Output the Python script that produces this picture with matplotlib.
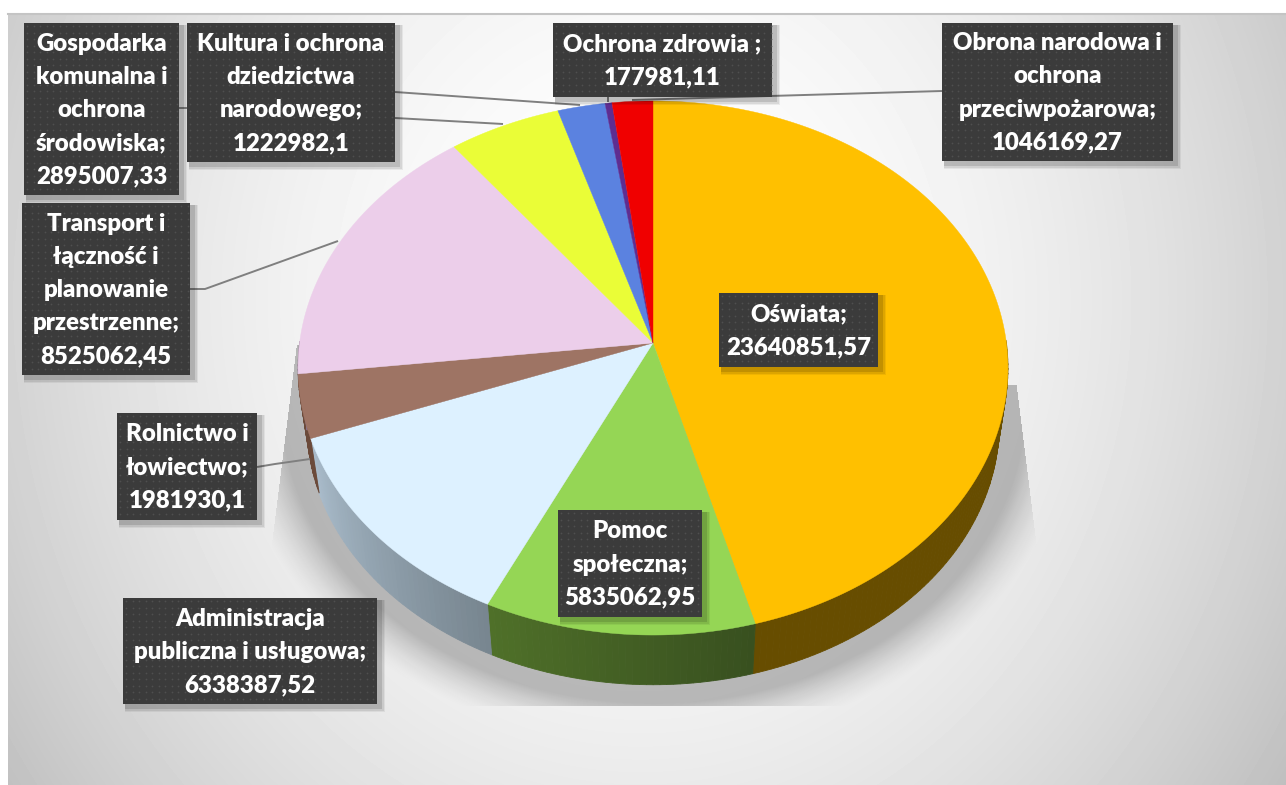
import numpy as np
import matplotlib
matplotlib.use("Agg")
import matplotlib.pyplot as plt
from matplotlib.patches import Rectangle

plt.rcParams['font.family'] = ['Lato', 'DejaVu Sans']

# dane
categories = ['Oświata', 'Pomoc\nspołeczna', 'Administracja\npubliczna i usługowa', 'Rolnictwo i\nłowiectwo',
              'Transport i\nłączność i\nplanowanie\nprzestrzenne', 'Gospodarka\nkomunalna i\nochrona\nśrodowiska',
              'Kultura i ochrona\ndziedzictwa\nnarodowego', 'Ochrona zdrowia ', 'Obrona narodowa i\nochrona\nprzeciwpożarowa']
values = [23640851.57, 5835062.95, 6338387.52, 1981930.1, 8525062.45, 2895007.33, 1222982.1, 177981.11, 1046169.27]
value_labels = ['23640851,57', '5835062,95', '6338387,52', '1981930,1', '8525062,45', '2895007,33', '1222982,1',
                '177981,11', '1046169,27']

# kolory
top_colors = ['#FFC000', '#95D655', '#DDF1FF', '#9E7464', '#ECCEEA', '#EAFD37', '#5B82E0', '#5E2D91', '#F00000']
rim_left = ['#674D00', '#4F7029', '#A9BCCB', '#6B4A3A', '#8A7088', '#8A9420', '#35508A', '#3A1C5A', '#8A0000']
rim_right = ['#674D00', '#38501F', '#788690', '#6B4A3A', '#8A7088', '#8A9420', '#35508A', '#3A1C5A', '#8A0000']

# ramki etykiet: x0, y0, x1, y1 (w pikselach)
boxes = [(719, 293, 878, 367), (558, 510, 702, 617), (123, 598, 377, 704), (117, 413, 257, 520),
         (22, 203, 190, 375), (24, 23, 179, 195), (187, 23, 395, 162), (553, 23, 772, 97), (942, 23, 1173, 161)]
leaders = [[(179, 108), (187, 108)], [(395, 118), (503, 124)], [(395, 92), (580, 105)], [(608, 97), (608, 102)],
           [(942, 91), (632, 100)], [(190, 289), (205, 289), (338, 241)], [(257, 467), (275, 464), (310, 459)]]

cx, cy = 653, 343
A, B, k = 353.4, 264.7, 0.0936
depth, shrink = 57, 0.975


def project(theta, scale=1.0, dy=0.0):
    w = 1 + k * np.cos(theta)
    return cx + scale * A * np.sin(theta) / w, cy + dy - scale * B * np.cos(theta) / w


fig = plt.figure(figsize=(12.86, 7.85), dpi=100)
ax = fig.add_axes([0, 0, 1, 1])
ax.axis('off')

# tło
yy, xx = np.mgrid[14:785, 8:1286]
d = np.sqrt(((xx - 640) / 800) ** 2 + ((yy - 300) / 900) ** 2)
bg = np.clip(255 - 68 * d ** 1.9, 0, 255) / 255
ax.imshow(bg, cmap='gray', vmin=0, vmax=1, extent=(8, 1286, 785, 14), aspect='auto', zorder=0)
ax.plot([8, 1286], [14, 14], color='#c4c4c4', lw=1.5, zorder=1)

# cień pod kołem
dist = np.sqrt(((xx - 653) / 372) ** 2 + ((yy - 405) / 298) ** 2)
alpha = 0.24 * np.clip((1.14 - dist) / 0.14, 0, 1) ** 1.5
alpha[yy > 705] = 0
alpha[yy < 345] = 0
alpha[(xx > 653) & (yy < 385)] = 0
alpha[xx > 1018 + (yy - 400) * 0.125] = 0
alpha[xx < 297 - (yy - 340) * 0.125] = 0
shadow = np.zeros(alpha.shape + (4,))
shadow[..., 3] = alpha
ax.imshow(shadow, extent=(8, 1286, 785, 14), aspect='auto', zorder=1)
ax.set_xlim(0, 1286)
ax.set_ylim(785, 0)

# koło
edges = np.radians(np.cumsum([0] + values) / sum(values) * 360)
for i in range(len(values)):
    t = np.linspace(edges[i], edges[i + 1], max(int(np.degrees(edges[i + 1] - edges[i])), 2) + 1)
    c0 = np.array(matplotlib.colors.to_rgb(rim_left[i]))
    c1 = np.array(matplotlib.colors.to_rgb(rim_right[i]))
    for j in range(len(t) - 1):
        if np.cos(t[j]) > 0.0 and np.cos(t[j + 1]) > 0.0:
            continue  # tył koła i tak niewidoczny
        x1, y1 = project(t[j:j + 2])
        x2, y2 = project(t[j:j + 2], shrink, depth)
        f = 1 - j / max(len(t) - 2, 1)
        col = c0 + (c1 - c0) * f
        ax.fill(np.r_[x1, x2[::-1]], np.r_[y1, y2[::-1]], color=col, lw=0.6, zorder=2)

for i in range(len(values)):
    t = np.linspace(edges[i], edges[i + 1], 200)
    x, y = project(t)
    ax.fill(np.r_[cx, x], np.r_[cy, y], color=top_colors[i], lw=0.3, zorder=3)

# linie odniesienia
for pts in leaders:
    ax.plot(*zip(*pts), color='#7f7f7f', lw=1.4, zorder=4, solid_capstyle='butt')

# etykiety
for name, val, (x0, y0, x1, y1) in zip(categories, value_labels, boxes):
    for s, a in [(6, 0.06), (4.5, 0.08), (3, 0.12)]:
        ax.add_patch(Rectangle((x0 + 2, y0 + 2), x1 - x0 + s, y1 - y0 + s, fc='black', ec='none', alpha=a, zorder=5))
    ax.add_patch(Rectangle((x0, y0), x1 - x0, y1 - y0, fc='#3b3b3b', ec='none', zorder=6))
    # kropkowana faktura ramki
    gx, gy = np.meshgrid(np.arange(x0 + 3, x1 - 1, 6.5), np.arange(y0 + 3, y1 - 1, 6.5))
    ax.scatter(gx.ravel(), gy.ravel(), s=1.6, c='#4f4f4f', marker='o', linewidths=0, zorder=6.5)
    ax.text((x0 + x1) / 2, (y0 + y1) / 2 + 1, f'{name};\n{val}', color='white', fontweight='heavy', fontsize=17.3,
            ha='center', va='center', linespacing=1.62, zorder=7)

fig.savefig('out.png', dpi=100)
